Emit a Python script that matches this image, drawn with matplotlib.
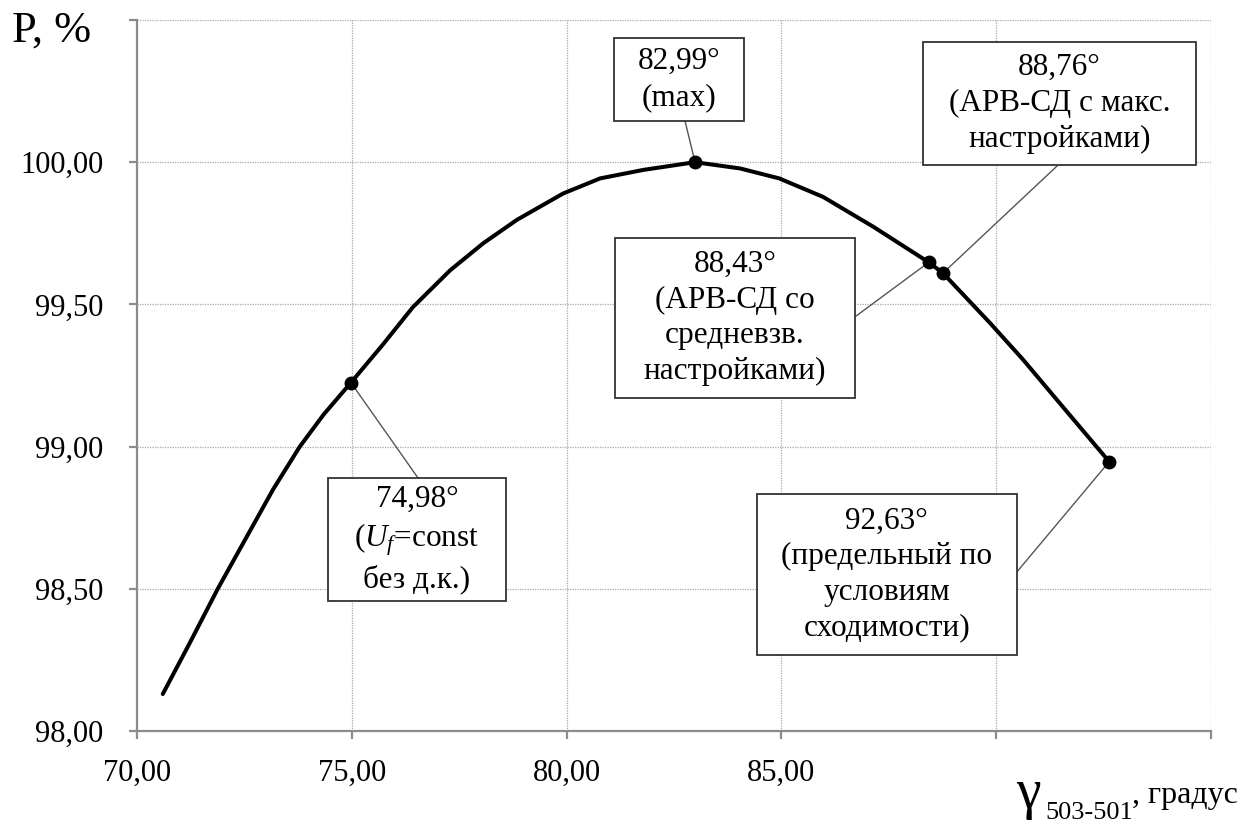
import matplotlib
matplotlib.use("Agg")
import matplotlib.pyplot as plt
from matplotlib.patches import Rectangle

plt.rcParams["font.family"] = ["Liberation Serif", "DejaVu Serif"]
plt.rcParams["mathtext.fontset"] = "custom"
plt.rcParams["mathtext.rm"] = "Liberation Serif"
plt.rcParams["mathtext.it"] = "Liberation Serif:italic"

# curve
gamma = [70.6, 71.23, 71.88, 73.17, 73.79, 74.34, 74.98, 75.73, 76.42, 77.29,
         78.06, 78.84, 79.92, 80.78, 81.79, 82.99, 84.04, 84.95, 85.97, 87.14,
         88.43, 88.76, 89.86, 90.63, 91.41, 92.63]
power = [98.13, 98.31, 98.5, 98.85, 99.0, 99.112, 99.225, 99.36, 99.49, 99.62,
         99.715, 99.797, 99.89, 99.943, 99.973, 100.0, 99.978, 99.943, 99.878, 99.773,
         99.648, 99.61, 99.434, 99.305, 99.165, 98.947]

marked_gamma = [74.98, 82.99, 88.43, 88.76, 92.63]
marked_power = [99.225, 100.0, 99.648, 99.61, 98.947]
marked_text = [
    "74,98°\n($U_f$=const\nбез д.к.)",
    "82,99°\n(max)",
    "88,43°\n(АРВ-СД со\nсредневзв.\nнастройками)",
    "88,76°\n(АРВ-СД с макс.\nнастройками)",
    "92,63°\n(предельный по\nусловиям\nсходимости)",
]

x_ticks = [70, 75, 80, 85, 90, 95]
x_tick_labels = ["70,00", "75,00", "80,00", "85,00", "", ""]
y_ticks = [98.0, 98.5, 99.0, 99.5, 100.0, 100.5]
y_tick_labels = ["98,00", "98,50", "99,00", "99,50", "100,00", ""]

# label boxes (x0, y0, x1, y1) and leader line ends, in data units
boxes = [
    (74.446, 98.457, 78.59, 98.890),
    (81.10, 100.145, 84.13, 100.437),
    (81.13, 99.171, 86.71, 99.733),
    (88.30, 99.99, 94.65, 100.423),
    (84.43, 98.267, 90.48, 98.833),
]
leader_ends = [
    (76.54, 98.89),
    (82.756, 100.145),
    (86.71, 99.456),
    (91.44, 99.99),
    (90.48, 98.559),
]

W, H = 1251, 824
fig = plt.figure(figsize=(W / 100, H / 100), dpi=100)
ax = fig.add_axes([137 / W, 1 - 731 / H, (1211 - 137) / W, (731 - 20) / H])

ax.set_xlim(70, 95)
ax.set_ylim(98, 100.5)

grey = "#8c8c8c"
for s in ["top", "right"]:
    ax.spines[s].set_visible(False)
for s in ["left", "bottom"]:
    ax.spines[s].set_color(grey)
    ax.spines[s].set_linewidth(1.6)

ax.set_xticks(x_ticks)
ax.set_xticklabels(x_tick_labels)
ax.set_yticks(y_ticks)
ax.set_yticklabels(y_tick_labels)
ax.tick_params(axis="both", direction="out", length=6, width=1.6, color=grey,
               labelsize=22)
ax.tick_params(axis="y", pad=18)
ax.tick_params(axis="x", pad=14)

for v in x_ticks[1:]:
    ax.axvline(v, color="#a8a8a8", linestyle=(0, (1, 1)), linewidth=0.9, zorder=0)
for v in y_ticks[1:]:
    ax.axhline(v, color="#a8a8a8", linestyle=(0, (1, 1)), linewidth=0.9, zorder=0)

ax.plot(gamma, power, color="black", linewidth=2.9, zorder=3,
        solid_capstyle="round", solid_joinstyle="round")
ax.plot(marked_gamma, marked_power, "o", color="black", markersize=9, zorder=4)

for (gx, py), (lx, ly), (x0, y0, x1, y1), txt in zip(
        zip(marked_gamma, marked_power), leader_ends, boxes, marked_text):
    ax.plot([gx, lx], [py, ly], color="#555555", linewidth=1.0, zorder=2)
    ax.add_patch(Rectangle((x0, y0), x1 - x0, y1 - y0, facecolor="white",
                           edgecolor="#333333", linewidth=1.3, zorder=5,
                           clip_on=False))
    ax.text((x0 + x1) / 2, (y0 + y1) / 2, txt, ha="center", va="center",
            fontsize=22.5, linespacing=1.3, zorder=6)

fig.text(12 / W, 1 - 42 / H, "P, %", fontsize=32, ha="left", va="baseline")
fig.text(1016 / W, 1 - 808 / H, "γ", fontsize=40, ha="left", va="baseline")
fig.text(1045 / W, 1 - 819 / H, "503-501", fontsize=19, ha="left", va="baseline")
fig.text(1132 / W, 1 - 803 / H, ", градус", fontsize=23, ha="left", va="baseline")

fig.savefig("out.png", dpi=100)
